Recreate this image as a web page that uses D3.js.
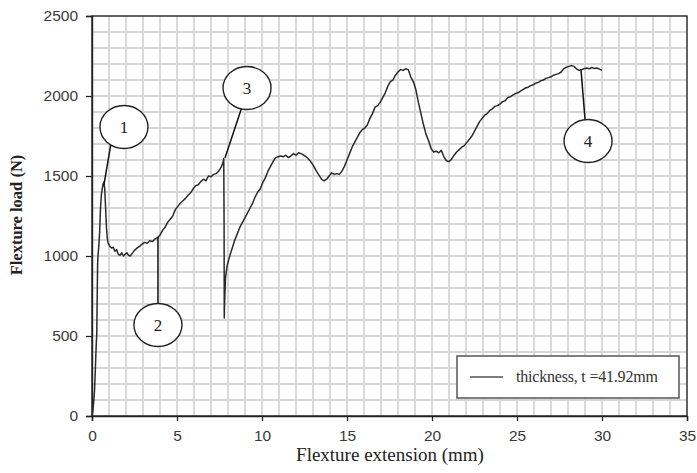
<!DOCTYPE html>
<html><head><meta charset="utf-8">
<script src="https://cdn.jsdelivr.net/npm/d3@7"></script>
<style>body{margin:0;background:#fff;}svg{display:block;}</style>
</head><body>
<svg id="chart" width="697" height="473"></svg>
<script>
const xTicks = [0,5,10,15,20,25,30,35];
const yTicks = [0,500,1000,1500,2000,2500];
const seriesName = "thickness, t =41.92mm";
const extension = [0,0.05,0.1,0.15,0.2,0.25,0.28,0.3,0.33,0.36,0.4,0.45,0.5,0.55,0.6,0.65,0.7,0.75,0.8,0.85,0.9,0.95,1.05,1.15,1.25,1.35,1.45,1.55,1.65,1.75,1.85,1.95,2.05,2.15,2.25,2.35,2.5,2.65,2.8,2.95,3.1,3.25,3.4,3.55,3.7,3.85,4.0,4.15,4.3,4.45,4.6,4.75,4.9,5.05,5.2,5.35,5.5,5.65,5.8,5.95,6.1,6.25,6.4,6.55,6.7,6.85,7.0,7.15,7.3,7.45,7.6,7.72,7.75,7.77,7.78,7.8,7.85,7.95,8.1,8.25,8.4,8.55,8.7,8.85,9.0,9.15,9.3,9.45,9.6,9.75,9.9,10.05,10.2,10.35,10.5,10.65,10.8,10.95,11.1,11.25,11.4,11.55,11.7,11.85,12.0,12.15,12.3,12.45,12.6,12.75,12.9,13.05,13.2,13.35,13.5,13.65,13.8,13.95,14.1,14.25,14.4,14.55,14.7,14.85,15.0,15.15,15.3,15.45,15.6,15.75,15.9,16.05,16.2,16.35,16.5,16.65,16.8,16.95,17.1,17.25,17.4,17.55,17.7,17.85,18.0,18.15,18.3,18.45,18.6,18.75,18.9,19.05,19.2,19.35,19.5,19.65,19.8,19.95,20.1,20.25,20.4,20.55,20.7,20.85,21.0,21.15,21.3,21.45,21.6,21.75,21.9,22.05,22.2,22.35,22.5,22.65,22.8,22.95,23.1,23.25,23.4,23.55,23.7,23.85,24.0,24.15,24.3,24.45,24.6,24.75,24.9,25.05,25.2,25.35,25.5,25.65,25.8,25.95,26.1,26.25,26.4,26.55,26.7,26.85,27.0,27.15,27.3,27.45,27.6,27.75,27.9,28.05,28.2,28.35,28.5,28.65,28.8,28.95,29.1,29.25,29.4,29.55,29.7,29.85,30.0];
const load = [0,30,90,160,300,450,510,700,950,1010,1060,1150,1300,1380,1420,1450,1460,1420,1300,1180,1110,1080,1060,1050,1055,1030,1040,1010,1005,1020,1000,1010,1020,1005,1000,1015,1035,1050,1060,1075,1085,1080,1095,1090,1105,1115,1130,1160,1180,1210,1230,1250,1290,1310,1330,1345,1360,1380,1395,1420,1440,1445,1465,1480,1470,1500,1495,1510,1515,1530,1555,1590,1610,1200,612,700,860,940,1000,1050,1100,1140,1180,1210,1240,1270,1300,1330,1370,1400,1420,1460,1490,1530,1560,1590,1615,1620,1625,1620,1630,1615,1625,1640,1630,1645,1640,1630,1620,1605,1585,1560,1530,1505,1480,1470,1480,1500,1520,1510,1515,1510,1530,1560,1600,1640,1680,1710,1740,1770,1790,1800,1820,1860,1890,1930,1940,1960,1990,2020,2060,2090,2100,2130,2150,2165,2160,2170,2165,2120,2090,2040,1960,1890,1820,1760,1720,1670,1650,1655,1645,1660,1620,1595,1590,1605,1630,1650,1665,1680,1690,1710,1730,1750,1780,1810,1840,1860,1880,1890,1910,1920,1935,1940,1950,1965,1970,1990,1995,2005,2015,2020,2030,2040,2050,2055,2065,2070,2080,2085,2095,2100,2110,2115,2120,2130,2135,2140,2150,2170,2180,2185,2190,2185,2170,2160,2165,2170,2175,2170,2178,2172,2175,2168,2160];
// annotations: label, ellipse centre (mm, N), leader from (mm,N) to (mm,N)
const annLabels = ["1","2","3","4"];
const annCx = [1.88,3.88,9.12,29.18];
const annCy = [1806,569,2050,1719];
const annFromX = [1.12,3.88,8.82,29.0];
const annFromY = [1706,700,1931,1856];
const annToX = [0.7,3.88,7.82,28.76];
const annToY = [1444,1119,1612,2169];

const svg = d3.select("#chart");
const m = {l:92,t:16,r:10,b:57};
const W = 697, H = 473;
const x = d3.scaleLinear().domain([0,35]).range([m.l, W-m.r]);
const y = d3.scaleLinear().domain([0,2500]).range([H-m.b, m.t]);

// grid
const g = svg.append("g");
g.selectAll(".vg").data(d3.range(1,35)).join("line")
  .attr("x1",d=>x(d)).attr("x2",d=>x(d)).attr("y1",y(0)).attr("y2",y(2500))
  .attr("stroke","#d6d6d6").attr("stroke-width",1.8);
g.selectAll(".hg").data(d3.range(100,2500,100)).join("line")
  .attr("y1",d=>y(d)).attr("y2",d=>y(d)).attr("x1",x(0)).attr("x2",x(35))
  .attr("stroke","#d6d6d6").attr("stroke-width",1.8);

// frame
svg.append("rect").attr("x",x(0)).attr("y",y(2500)).attr("width",x(35)-x(0)).attr("height",y(0)-y(2500))
  .attr("fill","none").attr("stroke","#222").attr("stroke-width",1.4);

// axes
const xa = svg.append("g").attr("transform",`translate(0,${y(0)})`)
  .call(d3.axisBottom(x).tickValues(xTicks).tickFormat(d3.format("d")).tickSize(5).tickPadding(9));
const ya = svg.append("g").attr("transform",`translate(${x(0)},0)`)
  .call(d3.axisLeft(y).tickValues(yTicks).tickFormat(d3.format("d")).tickSize(6).tickPadding(8));
[xa,ya].forEach(a=>{
  a.select(".domain").attr("stroke","#222").attr("stroke-width",1.4);
  a.selectAll(".tick line").attr("stroke","#222").attr("stroke-width",1.3);
  a.selectAll(".tick text").attr("font-family","'Liberation Sans', Arial, sans-serif")
    .attr("font-size",15.5).attr("fill","#3a3a3a");
});

// titles
svg.append("text").attr("x",390).attr("y",461).attr("text-anchor","middle")
  .attr("font-family","'Liberation Serif','Times New Roman',serif").attr("font-size",19).attr("fill","#222")
  .text("Flexture extension (mm)");
svg.append("text").attr("transform",`translate(22,${(y(0)+y(2500))/2 - 1}) rotate(-90)`).attr("text-anchor","middle")
  .attr("font-family","'Liberation Serif','Times New Roman',serif").attr("font-size",16.5).attr("font-weight","bold").attr("fill","#222")
  .text("Flexture load (N)");

// data line
const pts = extension.map((e,i)=>[e,load[i]]);
svg.append("path").datum(pts)
  .attr("d", d3.line().x(d=>x(d[0])).y(d=>y(d[1])))
  .attr("fill","none").attr("stroke","#2a2a2a").attr("stroke-width",1.5).attr("stroke-linejoin","round");

// annotations
const ann = annLabels.map((l,i)=>({l, cx:annCx[i], cy:annCy[i], fx:annFromX[i], fy:annFromY[i], tx:annToX[i], ty:annToY[i]}));
const ag = svg.append("g");
ag.selectAll("line").data(ann).join("line")
  .attr("x1",d=>x(d.fx)).attr("y1",d=>y(d.fy)).attr("x2",d=>x(d.tx)).attr("y2",d=>y(d.ty))
  .attr("stroke","#111").attr("stroke-width",1.5);
ag.selectAll("ellipse").data(ann).join("ellipse")
  .attr("cx",d=>x(d.cx)).attr("cy",d=>y(d.cy)).attr("rx",24).attr("ry",21.5)
  .attr("fill","#fff").attr("stroke","#222").attr("stroke-width",1.4);
ag.selectAll("text").data(ann).join("text")
  .attr("x",d=>x(d.cx)).attr("y",d=>y(d.cy)+6).attr("text-anchor","middle")
  .attr("font-family","'Liberation Serif','Times New Roman',serif").attr("font-size",17).attr("fill","#222")
  .text(d=>d.l);

// legend
const lg = svg.append("g");
lg.append("rect").attr("x",457).attr("y",356).attr("width",222).attr("height",42)
  .attr("fill","#fff").attr("stroke","#555").attr("stroke-width",1.5);
lg.append("line").attr("x1",470).attr("x2",503).attr("y1",377).attr("y2",377).attr("stroke","#555").attr("stroke-width",1.5);
lg.append("text").attr("x",516).attr("y",382).attr("font-family","'Liberation Serif','Times New Roman',serif")
  .attr("font-size",16).attr("letter-spacing",-0.2).attr("fill","#333").text(seriesName);
</script>
</body></html>
